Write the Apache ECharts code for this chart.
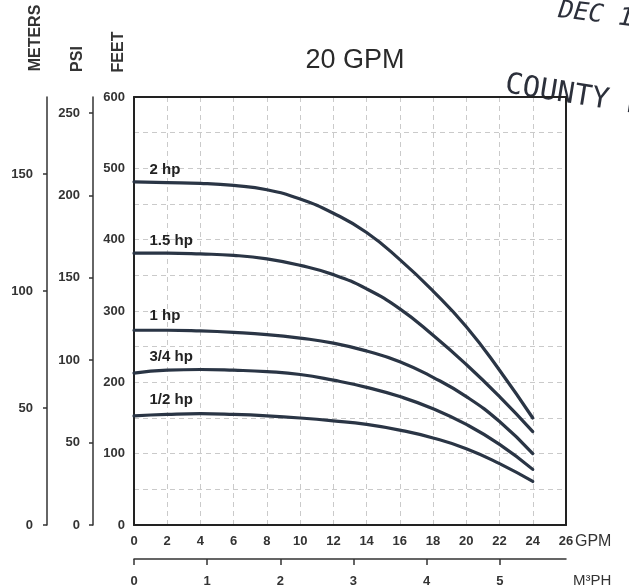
<!DOCTYPE html>
<html><head><meta charset="utf-8">
<script src="https://cdn.jsdelivr.net/npm/echarts@6/dist/echarts.min.js"></script>
<style>html,body{margin:0;padding:0;background:#fff}#c{width:629px;height:588px}</style>
</head><body><div id="c"></div>
<script>
// ---- data ----
const gpm  = [0, 2, 4, 6, 8, 10, 12, 14, 16, 18, 20, 22, 24];
const hp2  = [481, 480, 479, 476, 470, 457, 437, 410, 372, 328, 278, 217, 150];
const hp15 = [381, 381, 380, 378, 373, 364, 351, 331, 303, 266, 225, 180, 131];
const hp1  = [273, 273, 272, 270, 267, 262, 255, 244, 229, 207, 180, 145, 100];
const hp34 = [213, 217, 218, 217, 215, 211, 203, 193, 180, 163, 141, 113, 78];
const hp12 = [153, 155, 156, 155, 153, 150, 146, 141, 133, 122, 107, 86, 61];
const seriesNames = ['2 hp', '1.5 hp', '1 hp', '3/4 hp', '1/2 hp'];

const gpmTicks   = [0, 2, 4, 6, 8, 10, 12, 14, 16, 18, 20, 22, 24, 26];
const m3phTicks  = [0, 1, 2, 3, 4, 5];
const feetTicks  = [0, 100, 200, 300, 400, 500, 600];
const psiTicks   = [0, 50, 100, 150, 200, 250];
const meterTicks = [0, 50, 100, 150];

const FT_MAX = 600, GPM_MAX = 26;
const FT_PER_PSI = 2.31, M_PER_FT = 0.3048, M3PH_PER_GPM = 0.2271247;

// ---- styles ----
const FONT = "'Liberation Sans', Arial, Helvetica, sans-serif";
const tickLbl = { fontFamily: FONT, fontSize: 13, fontWeight: 'bold', color: '#333' };
const curveColor = '#2a3545';
const labelDy = [-12, -12, -14, -16, -16];

const chart = echarts.init(document.getElementById('c'), null, { renderer: 'canvas' });
const allVals = [hp2, hp15, hp1, hp34, hp12];

const series = allVals.map((vals, k) => ({
  name: seriesNames[k],
  type: 'line',
  xAxisIndex: 0, yAxisIndex: 0,
  smooth: 0.5,
  showSymbol: false,
  silent: true,
  data: gpm.map((g, i) => [g, vals[i]]),
  lineStyle: { color: curveColor, width: 3.2, cap: 'round' },
  markPoint: {
    silent: true,
    symbol: 'circle', symbolSize: 1,
    itemStyle: { color: 'rgba(0,0,0,0)' },
    label: {
      show: true, position: 'right', distance: 0,
      offset: [15, labelDy[k]],
      formatter: seriesNames[k],
      fontFamily: FONT, fontSize: 15, fontWeight: 'bold', color: '#222'
    },
    data: [{ coord: [gpm[0], vals[0]] }]
  }
}));

const dashed = { show: true, showMinLine: false, showMaxLine: false,
  lineStyle: { color: '#cacaca', width: 1, type: [5, 4] } };
const frame = { show: true, onZero: false, lineStyle: { color: '#222', width: 2 } };

chart.setOption({
  animation: false,
  backgroundColor: '#fff',
  grid: { left: 134, top: 97, width: 432, height: 429, show: false, containLabel: false },
  xAxis: [
    {
      type: 'value', min: 0, max: GPM_MAX, interval: 2, position: 'bottom',
      axisLine: frame,
      axisTick: { show: false },
      axisLabel: Object.assign({ customValues: gpmTicks, margin: 10 }, tickLbl),
      splitLine: dashed
    },
    {
      type: 'value', min: 0, max: GPM_MAX * M3PH_PER_GPM, position: 'bottom', offset: 34,
      axisLine: { show: true, onZero: false, lineStyle: { color: '#333', width: 1.5 } },
      axisTick: { show: true, customValues: m3phTicks, length: 6, lineStyle: { color: '#333', width: 1.5 } },
      axisLabel: Object.assign({ customValues: m3phTicks, margin: 16 }, tickLbl),
      splitLine: { show: false }
    },
    {
      type: 'value', min: 0, max: GPM_MAX, position: 'top',
      axisLine: frame, axisTick: { show: false }, axisLabel: { show: false }, splitLine: { show: false }
    }
  ],
  yAxis: [
    {
      type: 'value', min: 0, max: FT_MAX, interval: 50, position: 'left',
      axisLine: frame,
      axisTick: { show: false },
      axisLabel: Object.assign({ customValues: feetTicks, margin: 9 }, tickLbl),
      splitLine: dashed
    },
    {
      type: 'value', min: 0, max: FT_MAX / FT_PER_PSI, position: 'left', offset: 41,
      axisLine: { show: true, onZero: false, lineStyle: { color: '#333', width: 1.5 } },
      axisTick: { show: true, customValues: psiTicks, length: 4, lineStyle: { color: '#333', width: 1.5 } },
      axisLabel: Object.assign({ customValues: psiTicks, margin: 13 }, tickLbl),
      splitLine: { show: false }
    },
    {
      type: 'value', min: 0, max: FT_MAX * M_PER_FT, position: 'left', offset: 87,
      axisLine: { show: true, onZero: false, lineStyle: { color: '#333', width: 1.5 } },
      axisTick: { show: true, customValues: meterTicks, length: 4, lineStyle: { color: '#333', width: 1.5 } },
      axisLabel: Object.assign({ customValues: meterTicks, margin: 14 }, tickLbl),
      splitLine: { show: false }
    },
    {
      type: 'value', min: 0, max: FT_MAX, position: 'right',
      axisLine: frame, axisTick: { show: false }, axisLabel: { show: false }, splitLine: { show: false }
    }
  ],
  graphic: [
    { type: 'text', x: 355, y: 61, silent: true,
      style: { text: '20 GPM', font: "normal 27px " + FONT, fill: '#2a2a2a', align: 'center', verticalAlign: 'middle' } },
    { type: 'text', x: 36, y: 38, rotation: Math.PI / 2, silent: true,
      style: { text: 'METERS', font: "bold 16px " + FONT, fill: '#333', align: 'center', verticalAlign: 'middle' } },
    { type: 'text', x: 78, y: 59, rotation: Math.PI / 2, silent: true,
      style: { text: 'PSI', font: "bold 16px " + FONT, fill: '#333', align: 'center', verticalAlign: 'middle' } },
    { type: 'text', x: 118.5, y: 52, rotation: Math.PI / 2, silent: true,
      style: { text: 'FEET', font: "bold 16px " + FONT, fill: '#333', align: 'center', verticalAlign: 'middle' } },
    { type: 'text', x: 575, y: 542, silent: true,
      style: { text: 'GPM', font: "normal 16px " + FONT, fill: '#333', align: 'left', verticalAlign: 'middle' } },
    { type: 'text', x: 573, y: 581, silent: true,
      style: { text: 'M³PH', font: "normal 15px " + FONT, fill: '#333', align: 'left', verticalAlign: 'middle' } },
    { type: 'text', x: 557, y: 23, rotation: -0.119, silent: true,
      style: { text: 'DEC 1', font: "italic 25px 'DejaVu Sans Mono', monospace", fill: '#2c303b', align: 'left', verticalAlign: 'bottom' } },
    { type: 'text', x: 503, y: 99, rotation: -0.16, silent: true,
      style: { text: 'COUNTY L', font: "normal 29px 'DejaVu Sans Mono', monospace", fill: '#2c303b', align: 'left', verticalAlign: 'bottom' } }
  ],
  series: series
});
</script>
</body></html>
